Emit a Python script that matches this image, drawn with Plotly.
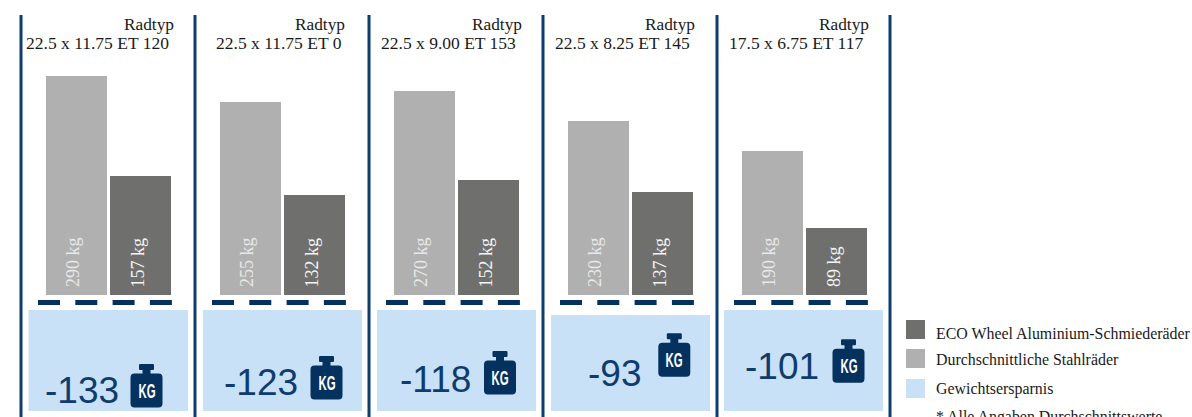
import plotly.graph_objects as go

wheel_types = ["22.5 x 11.75 ET 120", "22.5 x 11.75 ET 0", "22.5 x 9.00 ET 153", "22.5 x 8.25 ET 145", "17.5 x 6.75 ET 117"]
steel_kg = [290, 255, 270, 230, 190]
eco_kg = [157, 132, 152, 137, 89]
savings = [-133, -123, -118, -93, -101]
bar_categories = ["Durchschnittliche Stahlräder", "ECO Wheel Aluminium-Schmiederäder"]
legend_labels = ["ECO Wheel Aluminium-Schmiederäder", "Durchschnittliche Stahlräder", "Gewichtsersparnis"]
footnote = "* Alle Angaben Durchschnittswerte"
header_word = "Radtyp"

W, H = 1192, 417
STEEL, ECO, BLUE, NAVY = "#b0b0b0", "#6f6f6e", "#c8e1f6", "#05315f"
LINE = "#0f3c6e"
NUMBER = "#0f3c6c"
SERIF = "Liberation Serif, Times New Roman, serif"
SANS = "Liberation Sans, Arial, sans-serif"

# layout tables (pixels)
plot_left = [43.9, 217.9, 391.9, 565.9, 739.9]
plot_w = 129
base_y, top_y = 295.4, 50
kg_per_full = (base_y - top_y) / 0.758
rules = [21, 195, 369, 543, 717, 890]
boxes = [(28.5, 188, 310, 411), (203, 362, 310, 411), (377, 536, 310, 411), (551, 710, 315, 411), (724, 883, 310, 411)]
dash_left = [38, 212, 386, 560, 734]
num_center = [82, 261, 435.7, 614, 782]
num_base = [403, 395, 392, 386, 379]
icon_left = [130.5, 310.5, 484, 658.3, 832.5]
icon_top = [364, 356, 351, 333.3, 339.3]
radtyp_right = [174, 345, 522, 695, 869]
type_left = [26, 215.5, 381, 555, 729]

fig = go.Figure()
anns = []
for i in range(5):
    s = "" if i == 0 else str(i + 1)
    fig.add_trace(go.Bar(
        x=bar_categories, y=[steel_kg[i], eco_kg[i]], xaxis="x" + s, yaxis="y" + s,
        width=0.945, marker=dict(color=[STEEL, ECO], line=dict(width=0)),
        hoverinfo="skip", showlegend=False))
    fig.update_layout({
        "xaxis" + s: dict(domain=[plot_left[i] / W, (plot_left[i] + plot_w) / W], visible=False, type="category",
                          range=[-0.5, 1.5], anchor="y" + s, fixedrange=True),
        "yaxis" + s: dict(domain=[1 - base_y / H, 1 - top_y / H], visible=False, range=[0, kg_per_full],
                          anchor="x" + s, fixedrange=True),
    })
    for cat, val, col in zip(bar_categories, [steel_kg[i], eco_kg[i]], ["#e8e8e8", "#f4f4f4"]):
        anns.append(dict(x=cat, y=0, xref="x" + s, yref="y" + s, text=f"{val} kg", textangle=-90, showarrow=False,
                         xanchor="center", yanchor="bottom", yshift=6, xshift=-2.5,
                         font=dict(family=SERIF, size=18, color=col)))

# hidden pixel overlay for decoration
fig.add_trace(go.Scatter(x=[0], y=[0], xaxis="x6", yaxis="y6", mode="markers", marker=dict(opacity=0),
                         hoverinfo="skip", showlegend=False))
fig.update_layout(
    xaxis6=dict(domain=[0, 1], range=[0, W], visible=False, anchor="y6", fixedrange=True),
    yaxis6=dict(domain=[0, 1], range=[H, 0], visible=False, anchor="x6", fixedrange=True),
)

shapes = []

def rect(x0, x1, y0, y1, color):
    shapes.append(dict(type="rect", xref="x6", yref="y6", x0=x0, x1=x1, y0=y0, y1=y1,
                       fillcolor=color, line=dict(width=0), layer="below"))

def text(x, y, t, size, color, family=SERIF, xanchor="left", yanchor="middle", **fontkw):
    anns.append(dict(x=x, y=y, xref="x6", yref="y6", text=t, showarrow=False, xanchor=xanchor, yanchor=yanchor,
                     font=dict(family=family, size=size, color=color, **fontkw), borderpad=0, borderwidth=0))

for x in rules:
    shapes.append(dict(type="line", xref="x6", yref="y6", x0=x, x1=x, y0=15, y1=H, line=dict(color=LINE, width=3)))

for i in range(5):
    x0, x1, y0, y1 = boxes[i]
    rect(x0, x1, y0, y1, BLUE)
    shapes.append(dict(type="line", xref="x6", yref="y6", x0=dash_left[i], x1=dash_left[i] + 134, y0=302.5, y1=302.5,
                       line=dict(color=NAVY, width=5, dash="22px,15.3px")))
    text(radtyp_right[i], 24, header_word, 17.3, "#1a1a1a", xanchor="right")
    text(type_left[i], 43, wheel_types[i], 17.5, "#1a1a1a")
    text(num_center[i], num_base[i] - 13, str(savings[i]), 37, NUMBER, family=SANS, xanchor="center")
    ix, iy = icon_left[i], icon_top[i]
    shapes.append(dict(type="path", xref="x6", yref="y6", fillcolor=NAVY, line=dict(width=0),
        path=(f"M{ix+8.5},{iy+1} Q{ix+8.5},{iy} {ix+9.5},{iy} L{ix+22.5},{iy} Q{ix+23.5},{iy} {ix+23.5},{iy+1} L{ix+23.5},{iy+5} "
              f"Q{ix+23.5},{iy+6} {ix+22.5},{iy+6} L{ix+20},{iy+6} L{ix+20},{iy+9.5} L{ix+28},{iy+9.5} "
              f"Q{ix+32},{iy+9.5} {ix+32},{iy+13.5} L{ix+32},{iy+39.5} Q{ix+32},{iy+43.5} {ix+28},{iy+43.5} "
              f"L{ix+4},{iy+43.5} Q{ix},{iy+43.5} {ix},{iy+39.5} L{ix},{iy+13.5} Q{ix},{iy+9.5} {ix+4},{iy+9.5} "
              f"L{ix+12},{iy+9.5} L{ix+12},{iy+6} L{ix+9.5},{iy+6} Q{ix+8.5},{iy+6} {ix+8.5},{iy+5} Z")))
    text(ix + 16, iy + 26.5, "KG", 20, "white", family=SANS, xanchor="center", weight="bold")

rect(906, 925, 320, 339, ECO)
rect(906, 925, 349, 368, STEEL)
rect(906, 925, 379, 398, BLUE)
for lab, y in zip(legend_labels, [333, 359.5, 389]):
    text(936, y, lab, 15.9, "#1a1a1a")
text(936, 417, footnote, 15.9, "#1a1a1a")

fig.update_layout(width=W, height=H, margin=dict(l=0, r=0, t=0, b=0), paper_bgcolor="white", plot_bgcolor="rgba(0,0,0,0)",
                  bargap=0, shapes=shapes, annotations=anns, showlegend=False)

# narrow the "KG" glyph labels horizontally, keeping them as real text
condense = """
document.body.style.margin='0';document.body.style.overflow='hidden';
document.querySelectorAll('.annotation-text').forEach(function(t){
  if(t.textContent==='KG'){
    var b=t.getBBox(),cx=b.x+b.width/2;
    t.setAttribute('transform','translate('+cx+',0) scale(0.57,1) translate('+(-cx)+',0)');
  }
});
"""
fig.write_html("out.html", config={"displayModeBar": False}, post_script=condense)
